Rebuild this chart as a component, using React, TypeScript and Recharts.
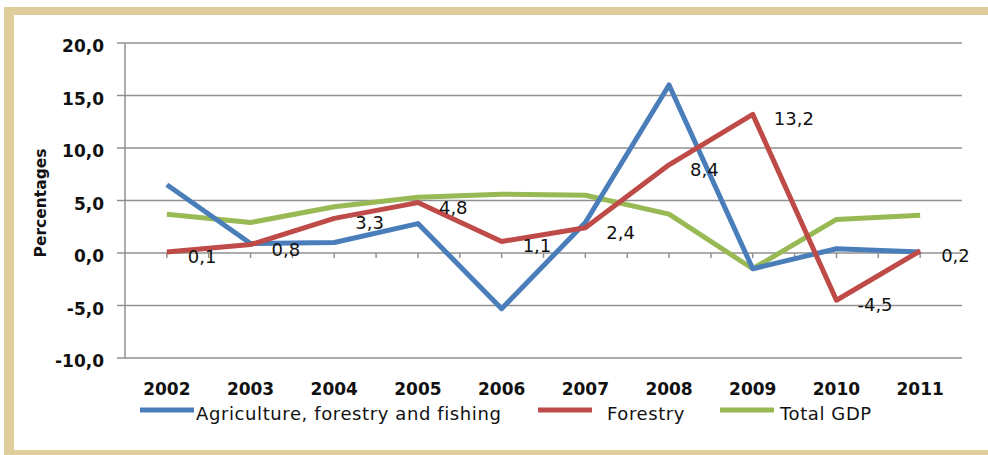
import React from 'react';
import { LineChart, Line, XAxis, YAxis, CartesianGrid, ReferenceLine, LabelList } from 'recharts';

const years = ['2002', '2003', '2004', '2005', '2006', '2007', '2008', '2009', '2010', '2011'];
const agriculture = [6.5, 0.9, 1.0, 2.8, -5.3, 2.9, 16.0, -1.5, 0.4, 0.1];
const forestry = [0.1, 0.8, 3.3, 4.8, 1.1, 2.4, 8.4, 13.2, -4.5, 0.2];
const totalGdp = [3.7, 2.9, 4.4, 5.3, 5.6, 5.5, 3.7, -1.5, 3.2, 3.6];
const yTicks = [-10, -5, 0, 5, 10, 15, 20];
const seriesNames = ['Agriculture, forestry and fishing', 'Forestry', 'Total GDP'];
const axisTitle = 'Percentages';

const COLORS = { agriculture: '#4a7ebb', forestry: '#be4b48', gdp: '#98b954' };
const GRID = '#909090';
const FONT = '"DejaVu Sans", sans-serif';

const data = years.map((y, i) => ({
  year: y,
  agriculture: agriculture[i],
  forestry: forestry[i],
  gdp: totalGdp[i],
}));

const fmt = (v: number) => v.toFixed(1).replace('.', ',');

const YTick = (props: any) => {
  const { x, y, payload } = props;
  return (
    <text x={x - 11} y={y + 9} textAnchor="end" fontFamily={FONT} fontWeight="bold" fontSize={17} fill="#111">
      {fmt(payload.value)}
    </text>
  );
};

const XTick = (props: any) => {
  const { x, y, payload } = props;
  return (
    <text x={x} y={y + 37} textAnchor="middle" fontFamily={FONT} fontWeight="bold" fontSize={17} fill="#111">
      {payload.value}
    </text>
  );
};

const ZeroTicks = (props: any) => {
  const { x1, y1, x2 } = props;
  const step = (x2 - x1) / (years.length * 2);
  const ticks = [];
  for (let k = 1; k < years.length * 2; k++) {
    const tx = x1 + step * k;
    ticks.push(<line key={k} x1={tx} x2={tx} y1={y1} y2={y1 + 5} stroke={GRID} strokeWidth={1.5} />);
  }
  return <g>{ticks}</g>;
};

const ForestryLabel = (props: any) => {
  const { x, y, value } = props;
  return (
    <text x={x + 21} y={y + 11} textAnchor="start" fontFamily={FONT} fontSize={18} fill="#111">
      {fmt(value)}
    </text>
  );
};

const legendItems = [
  { name: seriesNames[0], color: COLORS.agriculture, lineX: 140, textX: 196 },
  { name: seriesNames[1], color: COLORS.forestry, lineX: 538, textX: 607 },
  { name: seriesNames[2], color: COLORS.gdp, lineX: 720, textX: 780 },
];

export default function App() {
  return (
    <div style={{ position: 'absolute', left: 0, top: 0, width: 988, height: 455, overflow: 'hidden', background: '#fff' }}>
      <div
        style={{
          position: 'absolute',
          left: 4,
          top: 7,
          width: 1000,
          height: 451,
          boxSizing: 'border-box',
          borderTop: '8px solid #e0cd9c',
          borderLeft: '10px solid #e0cd9c',
          borderBottom: '8px solid #e0cd9c',
          background: '#fff',
        }}
      />
      <div style={{ position: 'absolute', left: 0, top: 0 }}>
        <LineChart width={988} height={455} data={data} margin={{ top: 43, right: 26, bottom: 67, left: 0 }}>
          <CartesianGrid vertical={false} stroke={GRID} strokeWidth={1.5} />
          <XAxis
            dataKey="year"
            scale="band"
            axisLine={false}
            tickLine={false}
            tickSize={0}
            tickMargin={0}
            height={30}
            interval={0}
            tick={<XTick />}
          />
          <YAxis
            domain={[-10, 20]}
            ticks={yTicks}
            width={125}
            allowDataOverflow
            axisLine={{ stroke: GRID, strokeWidth: 1.5 }}
            tickLine={{ stroke: GRID, strokeWidth: 1.5 }}
            tickSize={8}
            tick={<YTick />}
          />
          <ReferenceLine y={0} stroke={GRID} shape={<ZeroTicks />} />
          <Line
            dataKey="gdp"
            stroke={COLORS.gdp}
            strokeWidth={5}
            dot={false}
            strokeLinejoin="round"
            isAnimationActive={false}
          />
          <Line
            dataKey="agriculture"
            stroke={COLORS.agriculture}
            strokeWidth={5}
            dot={false}
            strokeLinejoin="round"
            isAnimationActive={false}
          />
          <Line
            dataKey="forestry"
            stroke={COLORS.forestry}
            strokeWidth={5}
            dot={false}
            strokeLinejoin="round"
            isAnimationActive={false}
          >
            <LabelList dataKey="forestry" content={<ForestryLabel />} />
          </Line>
        </LineChart>
      </div>
      <svg width={988} height={455} style={{ position: 'absolute', left: 0, top: 0, pointerEvents: 'none' }}>
        <text
          x={40}
          y={203}
          dy={5.5}
          transform="rotate(-90, 40, 203)"
          textAnchor="middle"
          fontFamily={FONT}
          fontWeight="bold"
          fontSize={15.5}
          fill="#111"
        >
          {axisTitle}
        </text>
        {legendItems.map((it) => (
          <g key={it.name}>
            <line x1={it.lineX} x2={it.lineX + 54} y1={410} y2={410} stroke={it.color} strokeWidth={5} />
            <text x={it.textX} y={420} fontFamily={FONT} fontSize={18} letterSpacing={0.6} fill="#111">
              {it.name}
            </text>
          </g>
        ))}
      </svg>
    </div>
  );
}
